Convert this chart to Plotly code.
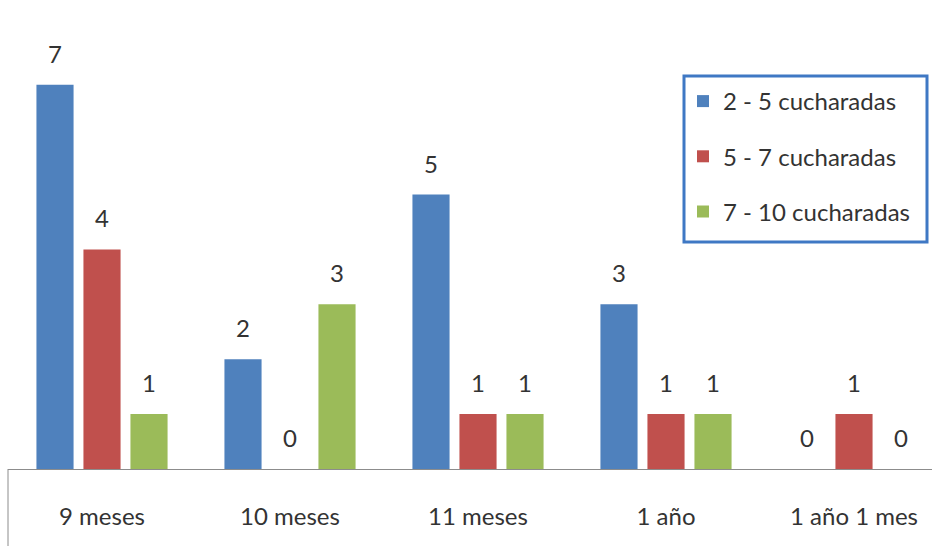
import plotly.graph_objects as go

# Edad y número de cucharadas
categorias = ["9 meses", "10 meses", "11 meses", "1 año", "1 año 1 mes"]
series = ["2 - 5 cucharadas", "5 - 7 cucharadas", "7 - 10 cucharadas"]
v_2_5 = [7, 2, 5, 3, 0]
v_5_7 = [4, 0, 1, 1, 1]
v_7_10 = [1, 3, 1, 1, 0]
valores = [v_2_5, v_5_7, v_7_10]
colores = ["#4F81BD", "#C0504D", "#9BBB59"]

FONT = "Lato"
FS = 24
W, H = 932, 546
ML, MB = 8, 77
plot_w = W - ML
plot_h = H - MB
slot_px = 188.0  # ancho de cada categoría


def px_x(x):
    return (x - ML) / plot_w


def px_y(y):
    return (plot_h - y) / plot_h


fig = go.Figure()
for i, (nombre, vals, col) in enumerate(zip(series, valores, colores)):
    fig.add_trace(go.Bar(
        x=categorias, y=vals, name=nombre, legendgroup=f"g{i}",
        marker=dict(color=col, line=dict(width=0)),
    ))

# Etiquetas de valor sobre cada barra
offsets = [-47, 0, 47]
for vals, dx in zip(valores, offsets):
    for cat, v in zip(categorias, vals):
        fig.add_annotation(
            x=cat, y=v, xref="x", yref="y", text=str(v), showarrow=False,
            xshift=dx, yshift=15, yanchor="bottom",
            font=dict(family=FONT, size=FS, color="#333333"),
        )

# Línea vertical izquierda bajo el eje
fig.add_shape(type="line", xref="paper", yref="paper",
              x0=0, x1=0, y0=0, y1=-MB / plot_h,
              line=dict(color="#8c8c8c", width=1))

# Marco de la leyenda
fig.add_shape(type="rect", xref="paper", yref="paper",
              x0=px_x(684), x1=px_x(927), y0=px_y(242), y1=px_y(76),
              line=dict(color="#3F78C4", width=3), fillcolor="rgba(0,0,0,0)")

x_max = -0.5 + plot_w / slot_px

fig.update_layout(
    width=W, height=H,
    margin=dict(l=ML, r=0, t=0, b=MB),
    paper_bgcolor="white", plot_bgcolor="white",
    barmode="group", bargap=0.25, bargroupgap=0.21,
    font=dict(family=FONT, size=FS, color="#333333"),
    showlegend=True,
    legend=dict(
        x=px_x(683), y=px_y(79),
        xanchor="left", yanchor="top",
        borderwidth=0, bgcolor="rgba(0,0,0,0)",
        font=dict(family=FONT, size=FS, color="#333333"),
        tracegroupgap=21, traceorder="grouped",
        itemwidth=30,
    ),
    xaxis=dict(
        range=[-0.5, x_max], showgrid=False, zeroline=False,
        showline=True, linecolor="#8c8c8c", linewidth=1,
        ticks="", ticklabelstandoff=26,
        tickfont=dict(family=FONT, size=FS, color="#333333"),
    ),
    yaxis=dict(
        range=[0, plot_h / 54.9], showgrid=False, zeroline=False,
        showline=False, showticklabels=False, ticks="",
    ),
)

fig.write_html("out.html")
